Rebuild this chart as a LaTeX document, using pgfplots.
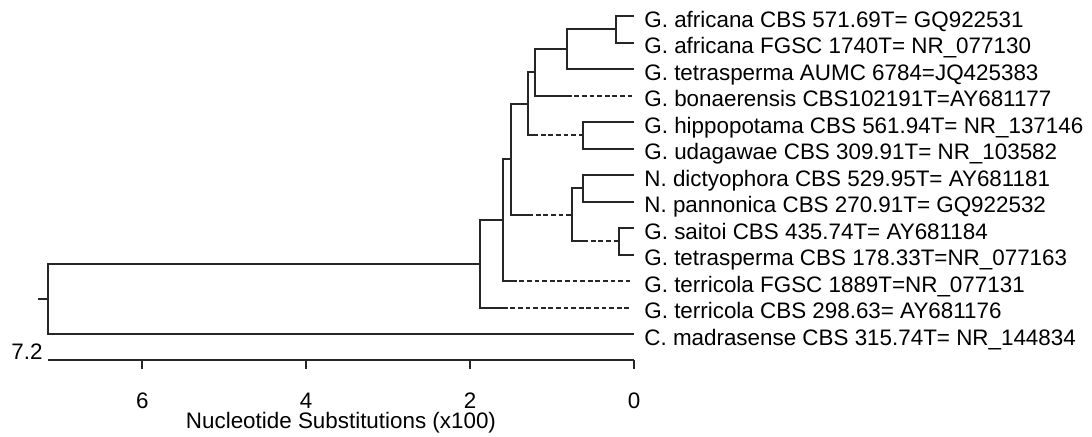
\documentclass[border=0pt]{standalone}
\usepackage{pgfplots}
\pgfplotsset{compat=1.18}
\usepackage{fontspec}
\setmainfont{Liberation Sans}
\begin{document}
\begin{tikzpicture}
\useasboundingbox (-24pt,-38pt) rectangle (522pt,180pt);
\begin{axis}[
  at={(0,0)}, anchor=south west,
  scale only axis, width=293pt, height=180pt,
  x dir=reverse,
  xmin=0, xmax=7.15, ymin=-12.98, ymax=0.604,
  clip=false,
  axis x line*=bottom,
  axis y line=none,
  x axis line style={line width=1pt, -, black!85},
  xtick={0,2,4,6},
  tick align=outside,
  major tick length=4.5pt,
  every tick/.style={black!85, line width=1pt},
  xticklabel style={font=\fontsize{11.2}{13}\selectfont, anchor=center, yshift=-16pt},
  /pgf/number format/assume math mode=true,
  xlabel={Nucleotide Substitutions (x100)},
  xlabel style={font=\fontsize{11.2}{13}\selectfont, anchor=center, at={(axis description cs:0.5,0)}, yshift=-31.5pt},
  br/.style={black!85, solid, no markers, line width=1pt, line join=miter},
  dbr/.style={black!85, no markers, line width=1pt, dash pattern=on 2.4pt off 1.4pt},
]
% solid branches
\addplot[br] coordinates {(0,0)(0.22,0)(0.22,-1)(0,-1)};
\addplot[br] coordinates {(0.22,-0.5)(0.82,-0.5)(0.82,-2)(0,-2)};
\addplot[br] coordinates {(0.82,-1.25)(1.21,-1.25)(1.21,-3)(0.82,-3)};
\addplot[br] coordinates {(1.21,-2.125)(1.29,-2.125)(1.29,-4.5)(1.23,-4.5)};
\addplot[br] coordinates {(0,-4)(0.62,-4)(0.62,-5)(0,-5)};
\addplot[br] coordinates {(1.29,-3.3125)(1.50,-3.3125)(1.50,-7.5)(1.29,-7.5)};
\addplot[br] coordinates {(0,-6)(0.62,-6)(0.62,-7)(0,-7)};
\addplot[br] coordinates {(0.62,-6.5)(0.76,-6.5)(0.76,-8.5)(0.62,-8.5)};
\addplot[br] coordinates {(0,-8)(0.18,-8)(0.18,-9)(0,-9)};
\addplot[br] coordinates {(1.50,-5.406)(1.60,-5.406)(1.60,-10)(1.49,-10)};
\addplot[br] coordinates {(1.60,-7.703)(1.88,-7.703)(1.88,-11)(1.60,-11)};
\addplot[br] coordinates {(1.88,-9.352)(7.15,-9.352)(7.15,-12)(0,-12)};
\addplot[br] coordinates {(7.27,-10.676)(7.15,-10.676)};
% dashed branches
\addplot[dbr] coordinates {(0.82,-3)(0.01,-3)};
\addplot[dbr] coordinates {(1.23,-4.5)(0.62,-4.5)};
\addplot[dbr] coordinates {(1.29,-7.5)(0.76,-7.5)};
\addplot[dbr] coordinates {(0.62,-8.5)(0.18,-8.5)};
\addplot[dbr] coordinates {(1.49,-10)(0.05,-10)};
\addplot[dbr] coordinates {(1.60,-11)(0.05,-11)};
% leaf labels
\begin{scope}[every node/.style={anchor=base west, inner sep=0pt, xshift=5pt, yshift=-5.5pt, font=\fontsize{11.2}{13}\selectfont}]
\node at (axis cs:0,0) {G. africana CBS 571.69T= GQ922531};
\node at (axis cs:0,-1) {G. africana FGSC 1740T= NR\_077130};
\node at (axis cs:0,-2) {G. tetrasperma AUMC 6784=JQ425383};
\node at (axis cs:0,-3) {G. bonaerensis CBS102191T=AY681177};
\node at (axis cs:0,-4) {G. hippopotama CBS 561.94T= NR\_137146};
\node at (axis cs:0,-5) {G. udagawae CBS 309.91T= NR\_103582};
\node at (axis cs:0,-6) {N. dictyophora CBS 529.95T= AY681181};
\node at (axis cs:0,-7) {N. pannonica CBS 270.91T= GQ922532};
\node at (axis cs:0,-8) {G. saitoi CBS 435.74T= AY681184};
\node at (axis cs:0,-9) {G. tetrasperma CBS 178.33T=NR\_077163};
\node at (axis cs:0,-10) {G. terricola FGSC 1889T=NR\_077131};
\node at (axis cs:0,-11) {G. terricola CBS 298.63= AY681176};
\node at (axis cs:0,-12) {C. madrasense CBS 315.74T= NR\_144834};
\end{scope}
\node[anchor=base east, inner sep=0pt, xshift=-2.5pt, yshift=0.5pt, font=\fontsize{11.2}{13}\selectfont] at (axis cs:7.15,-12.98) {7.2};
\end{axis}
\end{tikzpicture}
\end{document}
